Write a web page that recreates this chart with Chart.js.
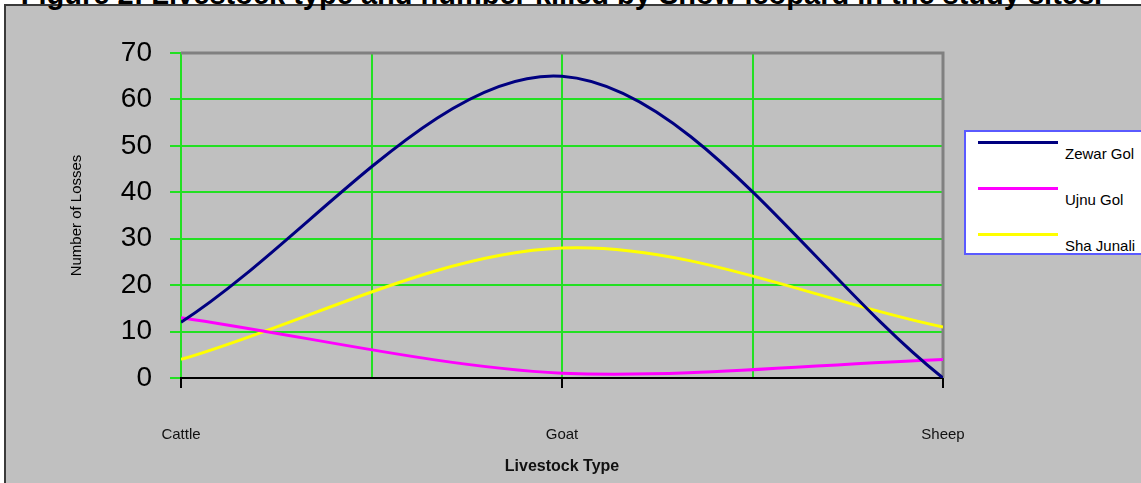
<!DOCTYPE html>
<html>
<head>
<meta charset="utf-8">
<script src="https://cdn.jsdelivr.net/npm/chart.js@4"></script>
<style>
  body { margin: 0; background: #fff; width: 1141px; height: 483px; overflow: hidden; position: relative; font-family: 'Liberation Sans', Arial, sans-serif; }
  #frame { position: absolute; left: 4px; top: 4px; width: 1200px; height: 520px; background: #c0c0c0; border: 2px solid #3a3a3a; }
  #title { position: absolute; left: 0; top: -20px; width: 1123px; text-align: center; font-weight: bold; font-size: 29px; line-height: 29px; white-space: nowrap; color: #000; }
  #chart { position: absolute; left: 0; top: 0; }
  #legend { position: absolute; left: 964px; top: 130px; width: 200px; height: 121px; background: #fff; border: 2px solid #5a5aff; }
  .item { position: relative; height: 46px; }
  .item .swatch { position: absolute; left: 12px; top: 9px; width: 80px; height: 3px; }
  .item .lbl { position: absolute; left: 99px; top: 13px; font-size: 15px; color: #000; }
</style>
</head>
<body>
<div id="frame"></div>
<div id="title">Figure 2: Livestock type and number killed by Snow leopard in the study sites.</div>
<canvas id="chart" width="1141" height="483"></canvas>
<div id="legend"></div>
<script>
// categories and values
const categories = ['Cattle', 'Goat', 'Sheep'];
const seriesNames = ['Zewar Gol', 'Ujnu Gol', 'Sha Junali'];
const zewarGol = [12, 65, 0];
const ujnuGol = [13, 1, 4];
const shaJunali = [4, 28, 11];
const seriesColors = ['#000080', '#ff00ff', '#ffff00'];

const seriesValues = [zewarGol, ujnuGol, shaJunali];
const datasets = seriesNames.map((name, i) => ({
    label: name,
    data: seriesValues[i].map((v, j) => ({ x: j, y: v })),
    borderColor: seriesColors[i],
    borderWidth: 3,
    pointRadius: 0,
    tension: 0.33,
    fill: false
}));

// grey top and right edge of the plot area
const plotFrame = {
    id: 'plotFrame',
    beforeDatasetsDraw(chart) {
        const { ctx, chartArea: a } = chart;
        ctx.save();
        ctx.strokeStyle = '#808080';
        ctx.lineWidth = 3;
        ctx.beginPath();
        ctx.moveTo(a.left, a.top);
        ctx.lineTo(a.right, a.top);
        ctx.lineTo(a.right, a.bottom);
        ctx.stroke();
        ctx.restore();
    }
};

const gridGreen = '#22e022';

const ctx = document.getElementById('chart').getContext('2d');
new Chart(ctx, {
    type: 'line',
    data: { datasets: datasets },
    options: {
        responsive: false,
        animation: false,
        layout: { padding: { top: 53, right: 198, left: 0, bottom: 0 } },
        plugins: {
            legend: { display: false },
            tooltip: { enabled: false }
        },
        scales: {
            x: {
                type: 'linear',
                min: 0,
                max: categories.length - 1,
                afterFit: s => { s.height = 105; },
                ticks: {
                    stepSize: 0.5,
                    autoSkip: false,
                    maxRotation: 0,
                    padding: 38,
                    color: '#111',
                    font: { family: "'Liberation Sans', Arial", size: 15 },
                    callback: v => Number.isInteger(v) ? categories[v] : ''
                },
                grid: {
                    color: c => c.tick && c.tick.value === categories.length - 1 ? 'rgba(0,0,0,0)' : gridGreen,
                    tickColor: c => c.tick && Number.isInteger(c.tick.value) ? '#000' : 'rgba(0,0,0,0)',
                    tickLength: 10,
                    lineWidth: 2
                },
                border: { color: '#000', width: 2 },
                title: {
                    display: true,
                    text: 'Livestock Type',
                    color: '#111',
                    font: { family: "'Liberation Sans', Arial", size: 16, weight: 'bold' },
                    padding: { top: 0, bottom: 7 }
                }
            },
            y: {
                min: 0,
                max: 70,
                afterFit: s => { s.width = 181; },
                ticks: {
                    stepSize: 10,
                    padding: 18,
                    color: '#000',
                    font: { family: "'Liberation Sans', Arial", size: 28 }
                },
                grid: {
                    color: gridGreen,
                    tickColor: gridGreen,
                    tickLength: 11,
                    lineWidth: 2
                },
                border: { display: false },
                title: {
                    display: true,
                    text: 'Number of Losses',
                    color: '#000',
                    font: { family: "'Liberation Sans', Arial", size: 15 },
                    padding: { top: 68, bottom: 0 }
                }
            }
        }
    },
    plugins: [plotFrame]
});

// legend laid out like the original: line on top, name below right
const legend = document.getElementById('legend');
seriesNames.forEach((name, i) => {
    const item = document.createElement('div');
    item.className = 'item';
    item.innerHTML = '<div class="swatch" style="background:' + seriesColors[i] + '"></div><span class="lbl">' + name + '</span>';
    legend.appendChild(item);
});
</script>
</body>
</html>
